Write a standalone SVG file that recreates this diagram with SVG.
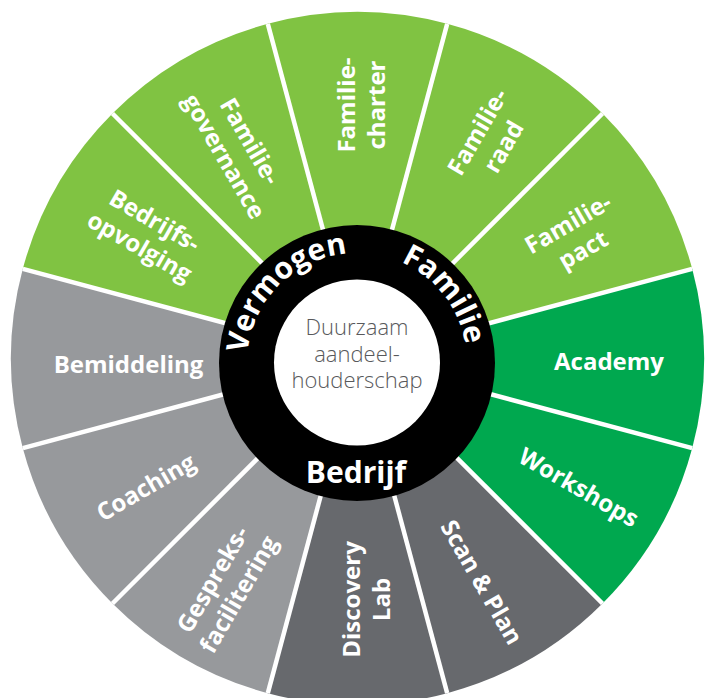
<svg xmlns="http://www.w3.org/2000/svg" width="708" height="698" viewBox="0 0 708 698">
<style>
.lg{fill:#80c342}.dg{fill:#00a84f}.lgr{fill:#97999c}.dgr{fill:#67696d}
.lbl{font-family:"Open Sans","Noto Sans","Liberation Sans",sans-serif;font-weight:700;font-size:24px;fill:#fff;text-anchor:middle}
.sep{stroke:#fff;stroke-width:4.5;fill:none}
.hub{font-family:"Open Sans","Noto Sans","Liberation Sans",sans-serif;font-weight:700;font-size:30px;fill:#fff}
.core{font-family:"Open Sans","Noto Sans","Liberation Sans",sans-serif;font-weight:300;font-size:22px;fill:#58595b;text-anchor:middle}
</style>
<defs>
<path id="arcV" d="M272.74,433.71 A110,110 0 0 1 427.71,278.74"/>
<path id="arcF" d="M297.09,270.74 A110,110 0 0 1 432.02,443.45"/>
</defs>
<rect width="708" height="698" fill="#fff"/>
<g id="seg-charter"><path class="lg" d="M357.5,358.5 L267.82,23.81 A346.5,346.5 0 0 1 447.18,23.81 Z"/>
<text class="lbl" transform="translate(361.5,105) rotate(-90)"><tspan x="0" y="-7">Familie-</tspan><tspan x="0" y="23">charter</tspan></text></g>
<g id="seg-raad"><path class="lg" d="M357.5,358.5 L447.18,23.81 A346.5,346.5 0 0 1 602.51,113.49 Z"/>
<text class="lbl" transform="translate(490.8,139.5) rotate(-60)"><tspan x="0" y="-7">Familie-</tspan><tspan x="0" y="23">raad</tspan></text></g>
<g id="seg-pact"><path class="lg" d="M357.5,358.5 L602.51,113.49 A346.5,346.5 0 0 1 692.19,268.82 Z"/>
<text class="lbl" transform="translate(575.8,237) rotate(-30)"><tspan x="0" y="-7">Familie-</tspan><tspan x="0" y="23">pact</tspan></text></g>
<g id="seg-academy"><path class="dg" d="M357.5,358.5 L692.19,268.82 A346.5,346.5 0 0 1 692.19,448.18 Z"/>
<text class="lbl" transform="translate(609,362)" x="0" y="8">Academy</text></g>
<g id="seg-workshops"><path class="dg" d="M357.5,358.5 L692.19,448.18 A346.5,346.5 0 0 1 602.51,603.51 Z"/>
<text class="lbl" transform="translate(578,488.5) rotate(30)" x="0" y="7">Workshops</text></g>
<g id="seg-scanplan"><path class="dgr" d="M357.5,358.5 L602.51,603.51 A346.5,346.5 0 0 1 447.18,693.19 Z"/>
<text class="lbl" transform="translate(480.5,583) rotate(60)" x="0" y="7">Scan &amp; Plan</text></g>
<g id="seg-discovery"><path class="dgr" d="M357.5,358.5 L447.18,693.19 A346.5,346.5 0 0 1 267.82,693.19 Z"/>
<text class="lbl" transform="translate(366.5,599.5) rotate(-90)"><tspan x="0" y="-7">Discovery</tspan><tspan x="0" y="23">Lab</tspan></text></g>
<g id="seg-gespreks"><path class="lgr" d="M357.5,358.5 L267.82,693.19 A346.5,346.5 0 0 1 112.49,603.51 Z"/>
<text class="lbl" transform="translate(226,587) rotate(-60)"><tspan x="0" y="-7">Gespreks-</tspan><tspan x="0" y="23">facilitering</tspan></text></g>
<g id="seg-coaching"><path class="lgr" d="M357.5,358.5 L112.49,603.51 A346.5,346.5 0 0 1 22.81,448.18 Z"/>
<text class="lbl" transform="translate(146.5,488.5) rotate(-30)" x="0" y="7">Coaching</text></g>
<g id="seg-bemiddeling"><path class="lgr" d="M357.5,358.5 L22.81,448.18 A346.5,346.5 0 0 1 22.81,268.82 Z"/>
<text class="lbl" transform="translate(128.5,365)" x="0" y="8">Bemiddeling</text></g>
<g id="seg-opvolging"><path class="lg" d="M357.5,358.5 L22.81,268.82 A346.5,346.5 0 0 1 112.49,113.49 Z"/>
<text class="lbl" transform="translate(147,234) rotate(30)"><tspan x="0" y="-7">Bedrijfs-</tspan><tspan x="0" y="23">opvolging</tspan></text></g>
<g id="seg-governance"><path class="lg" d="M357.5,358.5 L112.49,113.49 A346.5,346.5 0 0 1 267.82,23.81 Z"/>
<text class="lbl" transform="translate(236.8,149) rotate(60)"><tspan x="0" y="-7">Familie-</tspan><tspan x="0" y="23">governance</tspan></text></g>
<g id="separators">
<line class="sep" x1="357.5" y1="358.5" x2="267.82" y2="23.81"/>
<line class="sep" x1="357.5" y1="358.5" x2="447.18" y2="23.81"/>
<line class="sep" x1="357.5" y1="358.5" x2="602.51" y2="113.49"/>
<line class="sep" x1="357.5" y1="358.5" x2="692.19" y2="268.82"/>
<line class="sep" x1="357.5" y1="358.5" x2="692.19" y2="448.18"/>
<line class="sep" x1="357.5" y1="358.5" x2="602.51" y2="603.51"/>
<line class="sep" x1="357.5" y1="358.5" x2="447.18" y2="693.19"/>
<line class="sep" x1="357.5" y1="358.5" x2="267.82" y2="693.19"/>
<line class="sep" x1="357.5" y1="358.5" x2="112.49" y2="603.51"/>
<line class="sep" x1="357.5" y1="358.5" x2="22.81" y2="448.18"/>
<line class="sep" x1="357.5" y1="358.5" x2="22.81" y2="268.82"/>
<line class="sep" x1="357.5" y1="358.5" x2="112.49" y2="113.49"/>
</g>
<g id="hub">
<circle cx="357" cy="363" r="138" fill="#000"/>
<text class="hub"><textPath href="#arcV" startOffset="50%" text-anchor="middle">Vermogen</textPath></text>
<text class="hub"><textPath href="#arcF" startOffset="50%" text-anchor="middle">Familie</textPath></text>
<text class="hub" x="356" y="483" text-anchor="middle">Bedrijf</text>
</g>
<g id="core">
<circle cx="357" cy="362.5" r="83" fill="#fff"/>
<text class="core" x="357" y="335">Duurzaam</text>
<text class="core" x="357" y="361.5">aandeel-</text>
<text class="core" x="357" y="388">houderschap</text>
</g>
</svg>
